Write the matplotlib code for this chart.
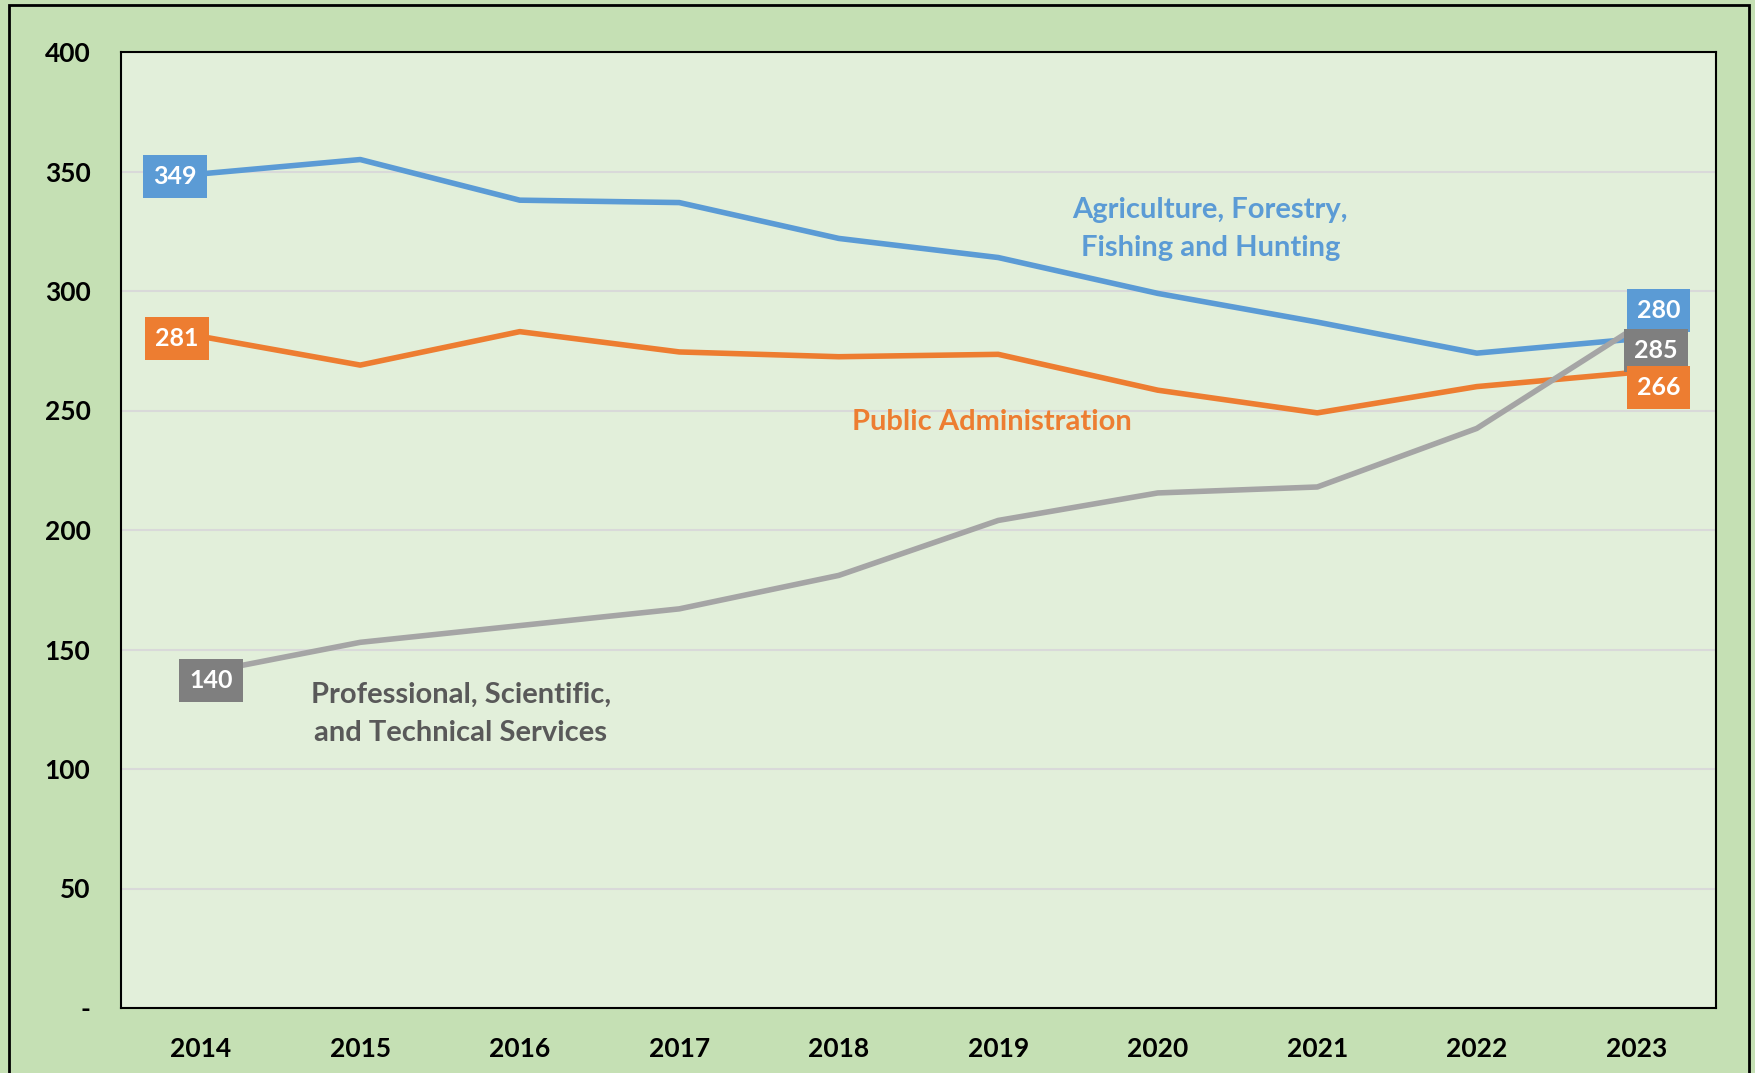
import matplotlib.pyplot as plt
from matplotlib.patches import Rectangle

years = ['2014', '2015', '2016', '2017', '2018', '2019', '2020', '2021', '2022', '2023']
agri = [349, 355, 338, 337, 322, 314, 299, 287, 274, 280]
public = [281, 269, 283, 274.5, 272.5, 273.5, 258.5, 249, 260, 266]
prof = [140, 153, 160, 167, 181, 204, 215.5, 218, 242.5, 285]
yticks = [0, 50, 100, 150, 200, 250, 300, 350, 400]
ylabels = ['-', '50', '100', '150', '200', '250', '300', '350', '400']

c_blue = '#5B9BD5'
c_orange = '#ED7D31'
c_gray = '#A5A5A5'
c_gray_box = '#7F7F7F'

plt.rcParams['font.family'] = ['Lato', 'DejaVu Sans']
plt.rcParams['font.weight'] = 'bold'

fig = plt.figure(figsize=(17.56, 10.73), dpi=100)
fig.patch.set_facecolor('#C5E0B4')
ax = fig.add_axes([121 / 1756, 65 / 1073, 1595 / 1756, 956 / 1073])
ax.set_facecolor('#E2EFDA')

# outer frame
fig.patches.append(Rectangle((9 / 1756, -0.01), 1740 / 1756, 1 - 5 / 1073 + 0.01,
                             transform=fig.transFigure, fill=False,
                             edgecolor='black', linewidth=2))

x = list(range(len(years)))
ax.plot(x, agri, color=c_blue, lw=4, solid_joinstyle='round', zorder=3)
ax.plot(x, public, color=c_orange, lw=4, solid_joinstyle='round', zorder=3)
ax.plot(x, prof, color=c_gray, lw=4, solid_joinstyle='round', zorder=4)

ax.set_xlim(-0.5, 9.5)
ax.set_ylim(0, 400)
ax.set_xticks(x)
ax.set_xticklabels(years)
ax.set_yticks(yticks)
ax.set_yticklabels(ylabels)
ax.tick_params(axis='both', length=0, labelsize=19, colors='black')
ax.tick_params(axis='y', pad=22)
ax.tick_params(axis='x', pad=21)
ax.yaxis.grid(True, color='#D9D9D9', lw=1.5)
ax.set_axisbelow(True)
for s in ax.spines.values():
    s.set_color('black')
    s.set_linewidth(1.5)


def tag(i, vals, color, dx, dy):
    ax.annotate(f'{vals[i]:.0f}', xy=(i, vals[i]), xytext=(dx, dy),
                textcoords='offset pixels', ha='center', va='center',
                color='white', fontsize=18, fontweight='bold', zorder=6,
                bbox=dict(boxstyle='square,pad=0.4', fc=color, ec='none'))


tag(0, agri, c_blue, -26, -3)
tag(0, public, c_orange, -24, -2)
tag(0, prof, c_gray_box, 10, -7)
tag(9, agri, c_blue, 22, 28)
tag(9, prof, c_gray_box, 20, -24)
tag(9, public, c_orange, 22, -15)

ax.text(6.33, 326, 'Agriculture, Forestry,\nFishing and Hunting', color=c_blue,
        fontsize=21, fontweight='bold', ha='center', va='center', linespacing=1.55)
ax.text(4.96, 245, 'Public Administration', color=c_orange,
        fontsize=21, fontweight='bold', ha='center', va='center')
ax.text(1.63, 123, 'Professional, Scientific,\nand Technical Services', color='#595959',
        fontsize=21, fontweight='bold', ha='center', va='center', linespacing=1.55)

fig.savefig('out.png', dpi=100, facecolor=fig.get_facecolor())
